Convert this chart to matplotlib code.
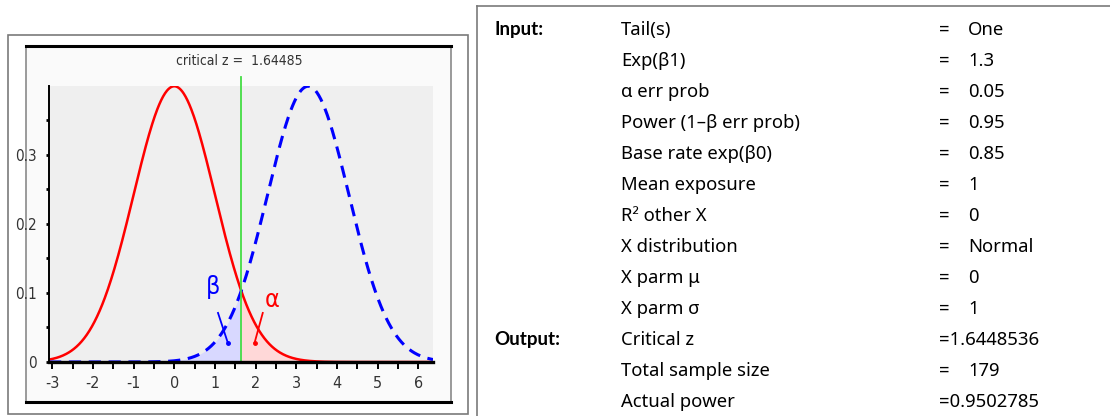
import numpy as np
import matplotlib
matplotlib.use('Agg')
import matplotlib.pyplot as plt
from matplotlib.patches import Rectangle
from matplotlib.lines import Line2D

plt.rcParams['axes.unicode_minus'] = False

# 分布参数
crit_z = 1.6448536
mu_h0 = 0.0
mu_h1 = 3.2918
sigma = 1.0
x_min, x_max = -3.08, 6.36
y_max = 0.3993

x_ticks = [-3, -2, -1, 0, 1, 2, 3, 4, 5, 6]
x_minor = [-2.5, -1.5, -0.5, 0.5, 1.5, 2.5, 3.5, 4.5, 5.5]
y_ticks = [0, 0.1, 0.2, 0.3]
y_tick_labels = ['0', '0.1', '0.2', '0.3']
y_minor = [0.05, 0.15, 0.25, 0.35]

# 右侧表格
row_labels = ['Tail(s)', 'Exp(β1)', 'α err prob', 'Power (1–β err prob)',
              'Base rate exp(β0)', 'Mean exposure', 'R² other X',
              'X distribution', 'X parm μ', 'X parm σ',
              'Critical z', 'Total sample size', 'Actual power']
row_values = ['One', '1.3', '0.05', '0.95', '0.85', '1', '0', 'Normal',
              '0', '1', '=1.6448536', '179', '=0.9502785']
section_rows = {0: 'Input:', 10: 'Output:'}

W, H = 1110, 416
sans = ['Noto Sans', 'DejaVu Sans']
bold = ['Lato', 'DejaVu Sans']
cond = dict(family='DejaVu Sans', fontstretch='condensed')


def fx(px):
    return px / W


def fy(py):
    return 1 - py / H


def pdf(x, mu, s):
    return np.exp(-0.5 * ((x - mu) / s) ** 2) / (s * np.sqrt(2 * np.pi))


fig = plt.figure(figsize=(W / 100, H / 100), dpi=100)
fig.patch.set_facecolor('white')

# 外框
fig.add_artist(Rectangle((fx(8), fy(414)), fx(460), 379 / H, transform=fig.transFigure,
                         facecolor='white', edgecolor='#7a7a7a', lw=1.2, zorder=-3))
fig.add_artist(Rectangle((fx(26), fy(402)), fx(425), 356 / H, transform=fig.transFigure,
                         facecolor='#fafafa', edgecolor='#8a8a8a', lw=1.2, zorder=-2))
for yy in (46, 402):
    fig.add_artist(Line2D([fx(26), fx(451)], [fy(yy), fy(yy)], transform=fig.transFigure,
                          color='black', lw=2.2, zorder=-1))

ax = fig.add_axes([fx(49), fy(362), fx(384), 276 / H])
ax.set_facecolor('#efefef')

x = np.linspace(x_min, x_max, 600)
xl = np.linspace(x_min, crit_z, 300)
xr = np.linspace(crit_z, x_max, 300)

ax.fill_between(xl, 0, pdf(xl, mu_h1, sigma), color='#d8d8ff', lw=0)
ax.fill_between(xr, 0, pdf(xr, mu_h0, sigma), color='#ffd8d8', lw=0)
ax.plot(x, pdf(x, mu_h0, sigma), color='#ff0000', lw=1.8)
ax.plot(x, pdf(x, mu_h1, sigma), color='#0000ff', lw=2.2, linestyle=(0, (4, 2.5)))
ax.plot([crit_z, crit_z], [0, 0.4116], color='#44dd44', lw=1.3, clip_on=False)

# α / β 标注
ax.text(crit_z - 0.70, 0.109, 'β', color='#0000ff', fontsize=18, ha='center', va='center',
        **cond)
ax.plot([crit_z - 0.57, crit_z - 0.33], [0.071, 0.028], color='#0000ff', lw=1.3)
ax.plot([crit_z - 0.33], [0.028], 'o', color='#0000ff', ms=2.5)
ax.text(crit_z + 0.77, 0.09, 'α', color='#ff0000', fontsize=18, ha='center', va='center',
        **cond)
ax.plot([crit_z + 0.53, crit_z + 0.33], [0.071, 0.028], color='#ff0000', lw=1.3)
ax.plot([crit_z + 0.33], [0.028], 'o', color='#ff0000', ms=2.5)

ax.set_xlim(x_min, x_max)
ax.set_ylim(0, y_max)
ax.set_xticks(x_ticks)
ax.set_xticklabels([str(t) for t in x_ticks], fontsize=11.5, color='#333333', **cond)
ax.set_xticks(x_minor, minor=True)
ax.set_yticks(y_ticks)
ax.set_yticklabels(y_tick_labels, fontsize=11, color='#333333', **cond)
ax.set_yticks(y_minor, minor=True)
ax.tick_params(axis='x', which='both', direction='out', length=5, width=1.4, pad=5)
ax.tick_params(axis='y', which='both', direction='out', length=2.5, width=2, pad=6)
for s in ('top', 'right'):
    ax.spines[s].set_visible(False)
ax.spines['left'].set_linewidth(1.4)
ax.spines['bottom'].set_linewidth(2.4)

fig.text(fx(239), fy(61), 'critical z =  1.64485', fontsize=10,
         color='#333333', ha='center', va='center', **cond)

# 右侧表格
fig.add_artist(Line2D([fx(476.5), 1], [fy(6), fy(6)], transform=fig.transFigure,
                      color='#7a7a7a', lw=1.2))
fig.add_artist(Line2D([fx(476.5), fx(476.5)], [fy(6), 0], transform=fig.transFigure,
                      color='#7a7a7a', lw=1.2))

fs = 13.3
for i, (lab, val) in enumerate(zip(row_labels, row_values)):
    yy = fy(30 + 31 * i)
    if i in section_rows:
        fig.text(fx(494), yy, section_rows[i], family=bold, fontsize=13.5,
                 fontweight='bold', va='center', color='black')
    fig.text(fx(621), yy, lab, family=sans, fontsize=fs, va='center', color='black')
    if val.startswith('='):
        fig.text(fx(939), yy, val, family=sans, fontsize=fs, va='center', color='black')
    else:
        fig.text(fx(939), yy, '=', family=sans, fontsize=fs, va='center', color='black')
        fig.text(fx(968), yy, val, family=sans, fontsize=fs, va='center', color='black')

fig.savefig('out.png', dpi=100)
